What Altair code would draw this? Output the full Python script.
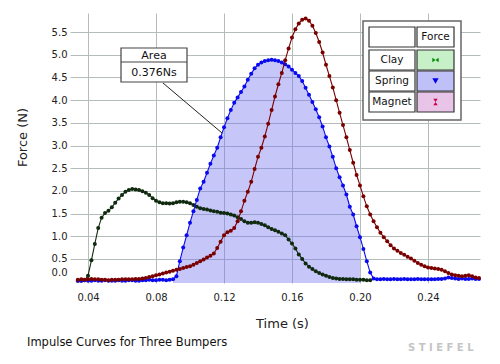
import altair as alt
import pandas as pd

# sampling grid
T0 = 0.034
DT = 0.002

clay = [0.02, 0.02, 0.03, 0.13, 0.47, 0.83, 1.18, 1.41, 1.51, 1.56,
        1.64, 1.74, 1.83, 1.91, 1.98, 2.02, 2.04, 2.03, 2.02, 1.99,
        1.96, 1.91, 1.84, 1.78, 1.75, 1.73, 1.73, 1.72, 1.73, 1.75,
        1.76, 1.76, 1.75, 1.73, 1.69, 1.65, 1.62, 1.60, 1.59, 1.57,
        1.55, 1.54, 1.52, 1.51, 1.50, 1.48, 1.46, 1.42, 1.38, 1.33,
        1.30, 1.30, 1.31, 1.30, 1.27, 1.24, 1.20, 1.16, 1.13, 1.10,
        1.06, 1.02, 0.93, 0.84, 0.73, 0.60, 0.50, 0.40, 0.33, 0.28,
        0.23, 0.19, 0.16, 0.13, 0.10, 0.08, 0.07, 0.06, 0.06, 0.05,
        0.05, 0.05, 0.04, 0.04, 0.04, 0.03, 0.03]

spring = [0.02, 0.02, 0.03, 0.02, 0.02, 0.03, 0.02, 0.02, 0.03, 0.02,
          0.02, 0.02, 0.03, 0.02, 0.02, 0.03, 0.03, 0.02, 0.02, 0.03,
          0.03, 0.04, 0.03, 0.03, 0.04, 0.04, 0.03, 0.04, 0.05,
          0.12, 0.45, 0.75, 1.02, 1.30, 1.55, 1.80, 2.05, 2.20, 2.40,
          2.60, 2.78, 2.95, 3.18, 3.40, 3.60, 3.78, 3.94, 4.06, 4.18,
          4.30, 4.45, 4.58, 4.70, 4.78, 4.83, 4.86, 4.88, 4.89, 4.88,
          4.86, 4.83, 4.79, 4.74, 4.67, 4.60, 4.53, 4.42, 4.27, 4.12,
          3.96, 3.80, 3.62, 3.42, 3.18, 2.98, 2.75, 2.50, 2.30, 2.12,
          1.92, 1.65, 1.48, 1.22, 0.98, 0.72, 0.45, 0.20, 0.07, 0.05,
          0.05, 0.06, 0.05, 0.05, 0.06, 0.05, 0.05, 0.06, 0.05, 0.05,
          0.05, 0.06, 0.05, 0.05, 0.05, 0.05, 0.05, 0.06, 0.06, 0.07,
          0.09, 0.08, 0.07, 0.06, 0.07, 0.06, 0.06, 0.07, 0.06, 0.06]

magnet = [0.04, 0.05, 0.04, 0.05, 0.06, 0.05, 0.05, 0.04, 0.04, 0.03,
          0.04, 0.04, 0.04, 0.05, 0.05, 0.05, 0.05, 0.06, 0.06, 0.07,
          0.08, 0.10, 0.12, 0.14, 0.16, 0.18, 0.20, 0.22, 0.24, 0.26,
          0.28, 0.30, 0.32, 0.34, 0.37, 0.41, 0.45, 0.49, 0.53, 0.57,
          0.62, 0.74, 0.88, 1.02, 1.09, 1.12, 1.18, 1.33, 1.55, 1.78,
          1.98, 2.20, 2.48, 2.75, 2.95, 3.20, 3.48, 3.78, 4.08, 4.35,
          4.60, 4.88, 5.14, 5.38, 5.56, 5.69, 5.77, 5.80, 5.75, 5.64,
          5.48, 5.28, 5.05, 4.78, 4.53, 4.28, 4.00, 3.72, 3.45, 3.18,
          2.90, 2.62, 2.35, 2.12, 1.88, 1.66, 1.48, 1.33, 1.20, 1.08,
          0.98, 0.89, 0.80, 0.73, 0.68, 0.63, 0.59, 0.55, 0.51, 0.46,
          0.41, 0.37, 0.34, 0.31, 0.30, 0.29, 0.28, 0.26, 0.23, 0.19,
          0.16, 0.14, 0.13, 0.12, 0.13, 0.14, 0.12, 0.09, 0.08]

x_ticks = [0.04, 0.08, 0.12, 0.16, 0.20, 0.24]
y_ticks = [0.0, 0.5, 1.0, 1.5, 2.0, 2.5, 3.0, 3.5, 4.0, 4.5, 5.0, 5.5]
area_start, area_end = 0.090, 0.200
area_label = "Area"
area_value = "0.376Ns"
legend_rows = ["Clay", "Spring", "Magnet"]
legend_header = "Force"
title_text = "Impulse Curves for Three Bumpers"
watermark = "S T I E F E L"

FONT = "DejaVu Sans"
C_CLAY = "#0f2a0f"
C_SPRING = "#0a0af0"
C_MAGNET = "#7a0000"


def frame(vals):
    return pd.DataFrame({"t": [round(T0 + DT * i, 3) for i in range(len(vals))],
                         "F": vals})


df_clay = frame(clay)
df_spring = frame(spring)
df_magnet = frame(magnet)
df_area = df_spring[(df_spring.t >= area_start - 1e-9) & (df_spring.t <= area_end + 1e-9)]

xs = alt.Scale(domain=[0.0294, 0.2706], nice=False, zero=False)
ys = alt.Scale(domain=[-0.03, 5.92], nice=False, zero=False)

xaxis = alt.Axis(values=x_ticks, format=".2f", grid=True, gridColor="#b4bcbc",
                 domain=False, ticks=False, labelFontSize=10, labelColor="#222",
                 labelFont=FONT, labelPadding=9, title="Time (s)", titleFont=FONT,
                 titleFontSize=13, titleFontWeight="normal", titleColor="#222",
                 titleX=212, titleY=40, titleBaseline="middle")
yaxis = alt.Axis(values=y_ticks, format=".1f", grid=True, gridColor="#b4bcbc",
                 gridOpacity={"condition": {"test": "datum.value === 0", "value": 0}, "value": 1},
                 domain=False, ticks=False, labelFontSize=10, labelColor="#222",
                 labelFont=FONT, labelPadding=3,
                 labelOffset={"condition": {"test": "datum.value === 0", "value": -9}, "value": 0},
                 title="Force (N)", titleFont=FONT, titleFontSize=13,
                 titleFontWeight="normal", titleColor="#222",
                 titleX=-48, titleY=124, titleBaseline="middle", titleAngle=-90)

X = alt.X("t:Q", scale=xs, axis=xaxis)
Y = alt.Y("F:Q", scale=ys, axis=yaxis)

area = alt.Chart(df_area).mark_area(color="#7070ee", opacity=0.4).encode(
    x=X, y=Y, y2=alt.datum(-0.03))


def series(df, color):
    line = alt.Chart(df).mark_line(color=color, strokeWidth=1.1).encode(x=X, y=Y)
    pts = alt.Chart(df).mark_circle(color=color, size=16, opacity=1).encode(x=X, y=Y)
    return [line, pts]


one = pd.DataFrame({"k": [0]})


def box(x1, y1, x2, y2, fill="white", stroke="#333", sw=1.2):
    return alt.Chart(one).mark_rect(fill=fill, stroke=stroke, strokeWidth=sw).encode(
        x=alt.value(x1), x2=alt.value(x2), y=alt.value(y1), y2=alt.value(y2))


def label(txt, x, y, size=10.5, align="center", color="#111", weight="normal"):
    return alt.Chart(one).mark_text(text=txt, font=FONT, fontSize=size, align=align,
                                    baseline="middle", color=color,
                                    fontWeight=weight).encode(
        x=alt.value(x), y=alt.value(y))


deco = []
# annotation
deco.append(alt.Chart(one).mark_rule(color="#222", strokeWidth=1).encode(
    x=alt.value(93), y=alt.value(70), x2=alt.value(152), y2=alt.value(120)))
deco.append(box(51, 35, 117, 69, stroke="#444", sw=1.2))
deco.append(alt.Chart(one).mark_rule(color="#444", strokeWidth=1.2).encode(
    x=alt.value(51), x2=alt.value(117), y=alt.value(49)))
deco.append(label(area_label, 84, 43, size=11))
deco.append(label(area_value, 84, 60, size=11))

# legend table
deco.append(box(293, 8, 391, 107, stroke="#666", sw=1.5))
deco.append(box(299, 14, 345, 34))
deco.append(box(347, 14, 384, 34))
deco.append(label(legend_header, 365.5, 24))
fills = ["#c8f0c8", "#c0c0f8", "#e8c4e8"]
row_y = [37, 58, 79]
for name, f, y0 in zip(legend_rows, fills, row_y):
    deco.append(box(299, y0, 345, y0 + 20))
    deco.append(box(347, y0, 384, y0 + 20, fill=f))
    deco.append(label(name, 322, y0 + 10))

sym_shapes = ["M-1,-0.7L0,0L-1,0.7Z M1,-0.7L0,0L1,0.7Z", "triangle-down",
              "M-0.7,-1L0.7,-1L0,0Z M-0.7,1L0.7,1L0,0Z"]
sym_colors = ["#008800", "#0000ee", "#cc0044"]
for shp, col, y0 in zip(sym_shapes, sym_colors, row_y):
    deco.append(alt.Chart(one).mark_point(shape=shp, filled=True, color=col, size=40,
                                          opacity=1).encode(
        x=alt.value(365.5), y=alt.value(y0 + 10)))

deco.append(label(title_text, -43, 330, size=11.5, align="left", color="#111"))
deco.append(label(watermark, 338, 335, size=10, align="left", color="#c4c4c4",
                  weight="bold"))

layers = [area] + series(df_clay, C_CLAY) + series(df_spring, C_SPRING) + \
    series(df_magnet, C_MAGNET) + deco

chart = alt.layer(*layers).properties(
    width=410, height=270,
    padding={"left": 62, "top": 5, "right": 12, "bottom": 70},
    autosize=alt.AutoSizeParams(type="none"),
).configure_view(stroke=None)

chart.save("out.html", embed_options={"renderer": "svg", "actions": False})
